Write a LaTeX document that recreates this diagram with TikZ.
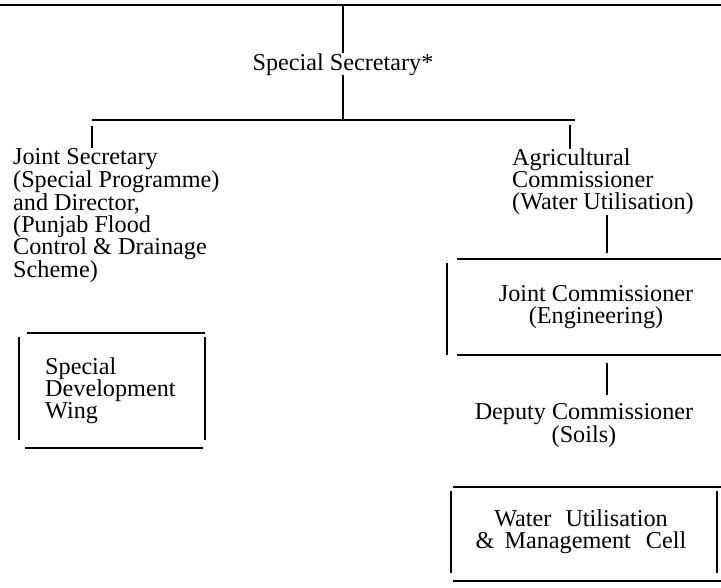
\documentclass[tikz,border=0pt]{standalone}
\usepackage{fontspec}
\setmainfont{Liberation Serif}
\tikzset{
  ln/.style={line width=1.6pt, line cap=butt},
  rule/.style={line width=2.4pt},
  lbl/.style={inner sep=0pt, font=\fontsize{24.2}{22}\selectfont},
}
\begin{document}
\begin{tikzpicture}[x=1pt,y=-1pt]
\useasboundingbox (0,0) rectangle (721,587);
% top rule
\coordinate (tl) at (0,5);
\coordinate (tr) at (721,5);
\draw[rule] (tl) -- (tr);
% Special Secretary
\node[lbl, anchor=base] (ss) at (343,70) {Special Secretary*};
\coordinate (sstop) at (343,5);
\draw[ln] (sstop) -- (ss.north);
\coordinate (busm) at (343,120);
\draw[ln] (ss.south) -- (busm);
\coordinate (busl) at (92,120);
\coordinate (busr) at (575,120);
\draw[ln] (busl) -- (busr);
% second level
\node[lbl, anchor=north west, align=left] (js) at (13,148)
  {Joint Secretary\\(Special Programme)\\and Director,\\(Punjab Flood\\Control \& Drainage\\Scheme)};
\node[lbl, anchor=north west, align=left] (ac) at (512,149)
  {Agricultural\\Commissioner\\(Water Utilisation)};
\coordinate (jsstub) at (92,126);
\coordinate (acstub) at (570,125);
\draw[ln] (jsstub) -- (jsstub |- js.north);
\draw[ln] (acstub) -- (acstub |- ac.north);
% Joint Commissioner box
\draw[ln] (457,259) -- (721,259);
\draw[ln] (447,263) -- (447,355);
\draw[ln] (457,355) -- (721,355);
\node[lbl, align=center] (jc) at (596,307) {Joint Commissioner\\(Engineering)};
\coordinate (jcin) at (607,253);
\draw[ln] (ac.south -| jcin) -- (jcin);
% Deputy Commissioner
\node[lbl, anchor=north, align=center] (dc) at (584,403) {Deputy Commissioner\\(Soils)};
\coordinate (jcout) at (607,363);
\draw[ln] (jcout) -- ([yshift=8pt]jcout |- dc.north);
% Water Utilisation box
\draw[ln] (453,487) -- (721,487);
\draw[ln] (451,491) -- (451,573);
\draw[ln] (717,491) -- (717,573);
\draw[ln] (453,581) -- (721,581);
\node[lbl, align=center] (wu) at (581,532)
  {Water\hspace{8pt} Utilisation\\\&\hspace{4pt} Management\hspace{9pt} Cell};
% Special Development Wing box
\draw[ln] (27,333) -- (205,333);
\draw[ln] (19,337) -- (19,440);
\draw[ln] (205,337) -- (205,440);
\draw[ln] (25,448) -- (203,448);
\node[lbl, anchor=north west, align=left] (sdw) at (45,358) {Special\\Development\\Wing};
\end{tikzpicture}
\end{document}
